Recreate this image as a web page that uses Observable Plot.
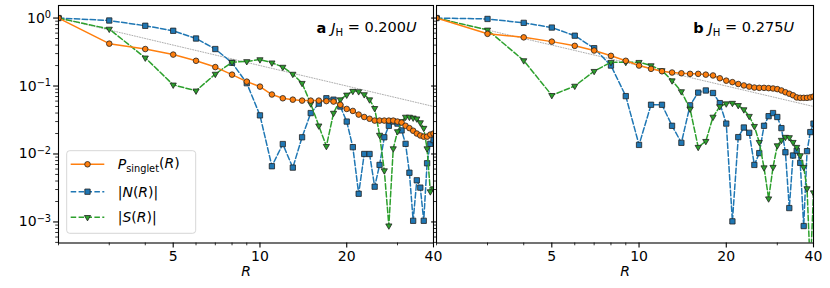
<!DOCTYPE html>
<html><head><meta charset="utf-8">
<script src="https://cdn.jsdelivr.net/npm/d3@7"></script>
<script src="https://cdn.jsdelivr.net/npm/@observablehq/plot@0.6"></script>
<style>
body{margin:0;background:#fff;}
#fig{position:relative;width:830px;height:288px;font-family:"DejaVu Sans";}
#fig svg{position:absolute;top:0;overflow:visible;}
</style></head><body><div id="fig"></div>
<script>
// distance R
const Rvals = [2,3,4,5,6,7,8,9,10,11,12,13,14,15,16,17,18,19,20,21,22,23,24,25,26,27,28,29,30,31,32,33,34,35,36,37,38,39,40];
// panel a  (J_H = 0.200U)
const aP = [1.0,0.42,0.35,0.29,0.235,0.19,0.147,0.116,0.098,0.075,0.066,0.063,0.061,0.061,0.061,0.060,0.059,0.053,0.046,0.043,0.038,0.035,0.033,0.031,0.031,0.031,0.031,0.031,0.030,0.029,0.026,0.024,0.022,0.020,0.0187,0.018,0.018,0.0193,0.020];
const aN = [1.0,0.92,0.77,0.65,0.50,0.35,0.22,0.11,0.037,0.0066,0.014,0.0063,0.0176,0.040,0.055,0.066,0.063,0.050,0.030,0.0126,0.0026,0.010,0.010,0.0033,0.0069,0.0176,0.026,0.030,0.028,0.0222,0.0141,0.0053,0.00104,0.0041,0.0032,0.00104,0.0073,0.0141,0.016];
const aS = [1.0,0.69,0.26,0.104,0.085,0.15,0.224,0.23,0.245,0.22,0.19,0.15,0.11,0.055,0.026,0.013,0.040,0.063,0.074,0.084,0.083,0.075,0.063,0.047,0.019,0.0057,0.00088,0.012,0.0214,0.030,0.035,0.035,0.034,0.033,0.029,0.024,0.012,0.0028,0.0031];
// panel b  (J_H = 0.275U)
const bP = [1.0,0.586,0.52,0.45,0.39,0.333,0.278,0.235,0.20,0.179,0.165,0.158,0.154,0.151,0.151,0.147,0.143,0.130,0.120,0.114,0.107,0.102,0.098,0.095,0.094,0.094,0.093,0.092,0.090,0.086,0.081,0.077,0.073,0.068,0.067,0.067,0.067,0.068,0.070];
const bN = [1.0,0.97,0.85,0.725,0.55,0.36,0.20,0.071,0.0136,0.053,0.053,0.026,0.0146,0.052,0.080,0.086,0.079,0.056,0.028,0.00102,0.0177,0.0245,0.0205,0.0069,0.0103,0.026,0.036,0.040,0.035,0.024,0.0106,0.0016,0.0095,0.0112,0.0074,0.00087,0.011,0.021,0.028];
const bS = [1.0,0.67,0.237,0.073,0.10,0.165,0.224,0.224,0.224,0.20,0.169,0.12,0.083,0.046,0.0126,0.0154,0.035,0.050,0.055,0.056,0.052,0.045,0.036,0.0256,0.0149,0.0063,0.0022,0.0064,0.0133,0.016,0.0177,0.0175,0.0149,0.0126,0.0095,0.0064,0.0031,0.0002,0.0027];
// dotted reference guide (~1/R)
const refR = [2, 40];
const refV = [1.0, 0.05];
// ticks
const majorX = [5, 10, 20, 40];
const minorX = [2, 3, 4, 6, 7, 8, 9, 30];
const majorY = [1, 0.1, 0.01, 0.001];
const yDomain = [4.9e-4, 1.53];
const minorY = [];
for (const d of [1e-4, 1e-3, 1e-2, 1e-1]) for (let k = 2; k <= 9; k++) { const v = k * d; if (v >= yDomain[0] && v <= yDomain[1]) minorY.push(v); }
const labels = ["a", "0.200", "b", "0.275"];

const C = {P: "#ff7f0e", N: "#1f77b4", S: "#2ca02c"};
const FONT = "DejaVu Sans";
const SZ = {P: 2.8, N: 3.0, S: 2.3};

function panel(P, N, S, {width, left, mLeft, mRight, showY}) {
  const rows = Rvals.map((r, i) => ({R: r, P: P[i], N: N[i], S: S[i]}));
  const ref = refR.map((r, i) => ({R: r, v: refV[i]}));
  const svg = Plot.plot({
    width, height: 288,
    marginLeft: mLeft, marginRight: mRight, marginTop: 5, marginBottom: 45.5,
    style: {background: "transparent", fontFamily: FONT, fontSize: "14px", color: "#000", overflow: "visible"},
    x: {type: "log", domain: [2, 40], axis: null, label: null},
    y: {type: "log", domain: yDomain, axis: null, label: null},
    marks: [
      Plot.line(ref, {x: "R", y: "v", stroke: "#999", strokeWidth: 0.8, strokeDasharray: "1,1.6"}),
      Plot.line(rows, {x: "R", y: "N", stroke: C.N, strokeWidth: 1.5, strokeDasharray: "5.5,2.4", clip: true}),
      Plot.dot(rows, {x: "R", y: "N", symbol: "square", r: SZ.N, fill: C.N, stroke: "#222", strokeWidth: 0.8, clip: true}),
      Plot.line(rows, {x: "R", y: "S", stroke: C.S, strokeWidth: 1.5, strokeDasharray: "5.5,2.4", clip: true}),
      Plot.dot(rows, {x: "R", y: "S", symbol: "triangle", rotate: 180, r: SZ.S, fill: C.S, stroke: "#222", strokeWidth: 0.8, clip: true}),
      Plot.line(rows, {x: "R", y: "P", stroke: C.P, strokeWidth: 1.5, clip: true}),
      Plot.dot(rows, {x: "R", y: "P", symbol: "circle", r: SZ.P, fill: C.P, stroke: "#222", strokeWidth: 0.8, clip: true}),
      Plot.frame({stroke: "#000", strokeWidth: 1.1}),
      Plot.axisX({ticks: majorX, tickSize: 4.9, tickPadding: 3.5, tickFormat: d => String(d), label: null, strokeWidth: 1.1, fontSize: 14}),
      Plot.axisX({ticks: minorX, tickSize: 2.8, tickFormat: () => "", label: null, strokeWidth: 0.8}),
      Plot.axisY({ticks: majorY, tickSize: 4.9, tickPadding: 2.5, tickFormat: showY ? (d => "10^" + Math.round(Math.log10(d))) : (() => ""), label: null, strokeWidth: 1.1, fontSize: 14}),
      Plot.axisY({ticks: minorY, tickSize: 2.8, tickFormat: () => "", label: null, strokeWidth: 0.8}),
      Plot.text(["R"], {frameAnchor: "bottom", dy: 33, fontStyle: "italic", fontSize: 14})
    ]
  });
  svg.style.left = left + "px";
  return svg;
}

const fig = document.getElementById("fig");
const svgA = panel(aP, aN, aS, {width: 436, left: 0, mLeft: 58, mRight: 3, showY: true});
const svgB = panel(bP, bN, bS, {width: 404, left: 426, mLeft: 10, mRight: 17, showY: false});
fig.appendChild(svgA);
fig.appendChild(svgB);

// superscript exponents on y tick labels
d3.select(svgA).selectAll('g[aria-label="y-axis tick label"] text').each(function () {
  const t = this.textContent;
  if (!t.includes("^")) return;
  const [b, e] = t.split("^");
  const el = d3.select(this);
  el.text("");
  el.append("tspan").text(b);
  el.append("tspan").attr("dy", "-0.5em").attr("font-size", "70%").text(e.replace("-", "\u2212"));
});

// panel annotations
function annotate(svg, letter, val, xRight) {
  const t = d3.select(svg).append("text")
    .attr("x", xRight).attr("y", 33.3).attr("text-anchor", "end")
    .attr("font-family", FONT).attr("font-size", 14.5).attr("fill", "#000");
  t.append("tspan").attr("font-weight", "bold").text(letter + " ");
  t.append("tspan").attr("font-style", "italic").text("J");
  t.append("tspan").attr("dy", "0.3em").attr("font-size", "70%").text("H");
  t.append("tspan").attr("dy", "-0.3em").text(" = " + val);
  t.append("tspan").attr("font-style", "italic").text("U");
}
annotate(svgA, labels[0], labels[1], 416.7);
annotate(svgB, labels[2], labels[3], 794 - 426);

// legend in panel a
const lg = d3.select(svgA).append("g").attr("font-family", FONT).attr("font-size", 14).attr("text-anchor", "start");
lg.append("rect").attr("x", 66.7).attr("y", 150.7).attr("width", 129).attr("height", 82.6)
  .attr("rx", 3).attr("fill", "#fff").attr("fill-opacity", 0.8).attr("stroke", "#ccc").attr("stroke-width", 0.8);
const items = [
  {c: C.P, dash: null, sym: d3.symbolCircle, r: SZ.P, rot: 0, y: 164.3, key: "P"},
  {c: C.N, dash: "5.5,2.4", sym: d3.symbolSquare, r: SZ.N, rot: 0, y: 191.7, key: "N"},
  {c: C.S, dash: "5.5,2.4", sym: d3.symbolTriangle, r: SZ.S, rot: 180, y: 217.3, key: "S"}
];
for (const it of items) {
  lg.append("line").attr("x1", 70.7).attr("x2", 104.3).attr("y1", it.y).attr("y2", it.y)
    .attr("stroke", it.c).attr("stroke-width", 1.5).attr("stroke-dasharray", it.dash);
  lg.append("path").attr("d", d3.symbol(it.sym, Math.PI * it.r * it.r)())
    .attr("transform", `translate(87.5,${it.y}) rotate(${it.rot})`)
    .attr("fill", it.c).attr("stroke", "#222").attr("stroke-width", 0.8);
  const t = lg.append("text").attr("x", 117.7).attr("y", it.y).attr("dy", "0.35em").attr("fill", "#000").attr("text-anchor", "start");
  if (it.key === "P") {
    t.append("tspan").attr("font-style", "italic").text("P");
    t.append("tspan").attr("dy", "0.3em").attr("font-size", "70%").text("singlet");
    t.append("tspan").attr("dy", "-0.3em").text("(");
  } else {
    t.append("tspan").text("|");
    t.append("tspan").attr("font-style", "italic").text(it.key);
    t.append("tspan").text("(");
  }
  t.append("tspan").attr("font-style", "italic").text("R");
  t.append("tspan").text(it.key === "P" ? ")" : ")|");
}
</script></body></html>
